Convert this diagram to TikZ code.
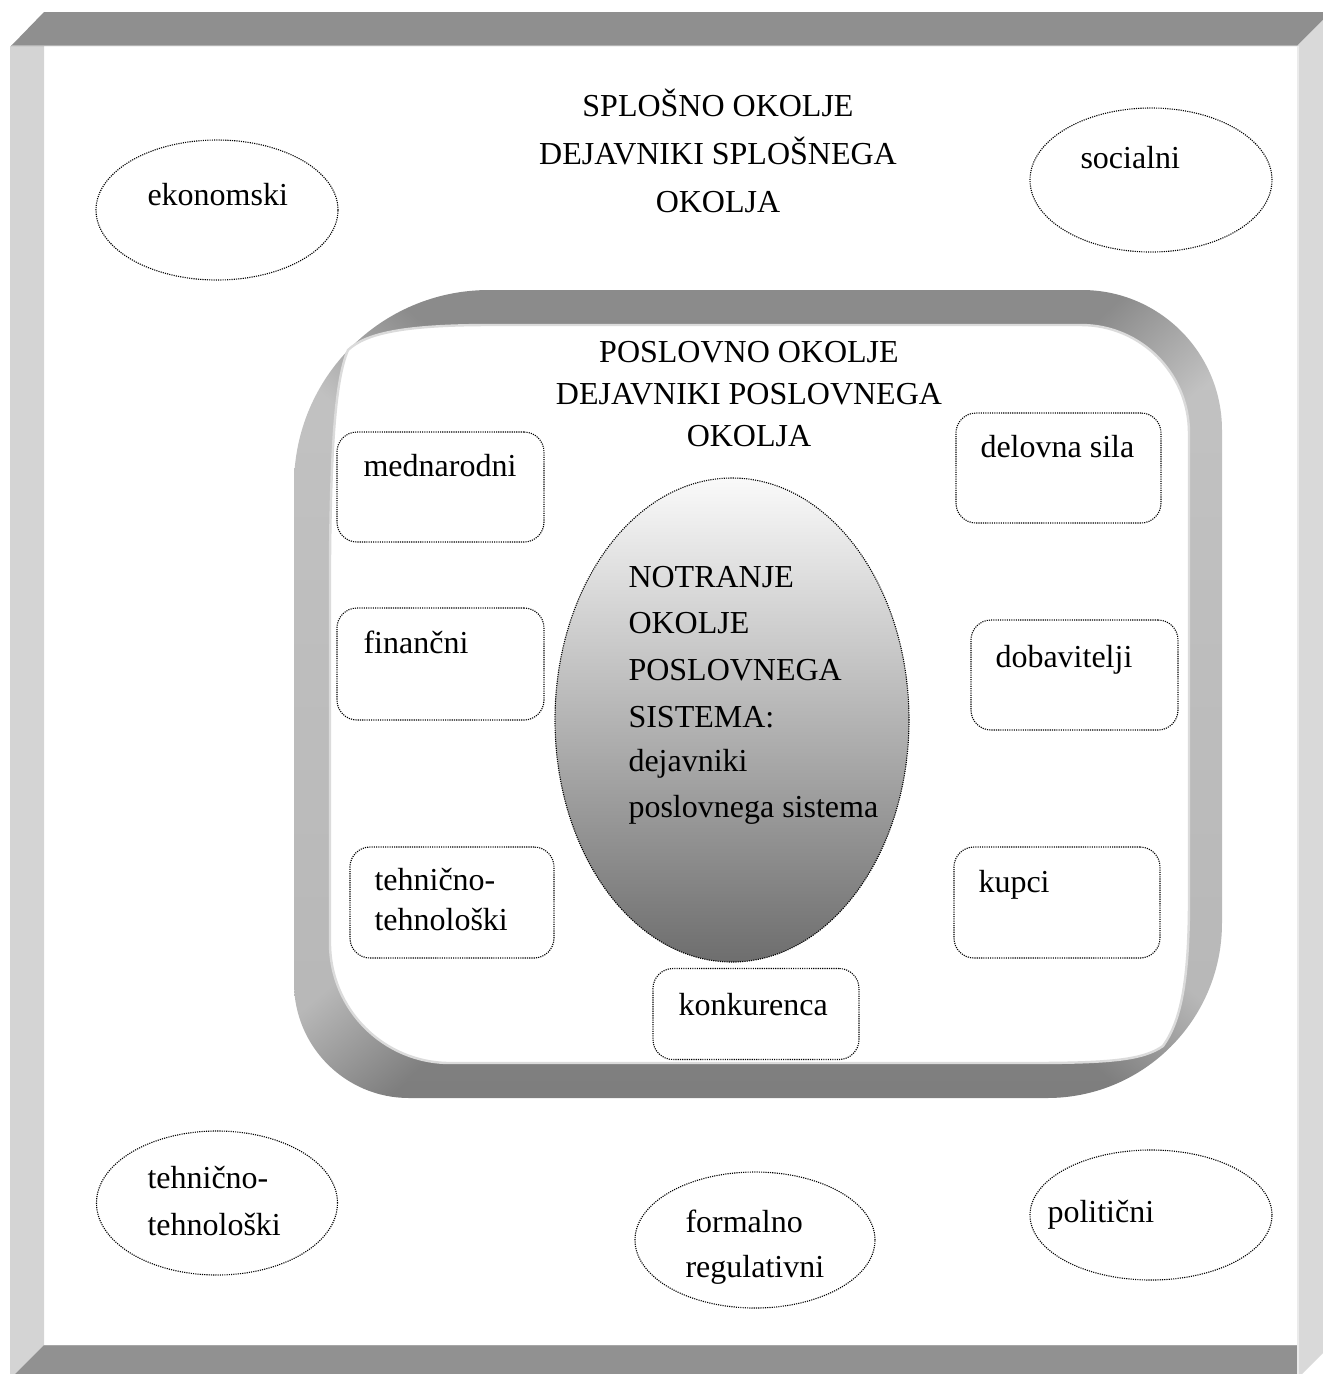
\documentclass[tikz,border=0pt]{standalone}
\usepackage{fontspec}
\setmainfont{Liberation Serif}
\usetikzlibrary{shapes.geometric}

% Bevel-like grey for the rounded band: light on the vertical sides,
% dark on the horizontal sides, slightly darker towards the bottom.
\pgfdeclarefunctionalshading{bandshade}{\pgfpoint{-50bp}{-50bp}}{\pgfpoint{50bp}{50bp}}{}{
  dup 0.001 mul 3 1 roll
  abs exch abs exch sub 0.2 mul
  dup 1 add abs exch 1 sub abs sub
  0.055 mul add 0.63 add
  dup dup
}

\newcommand\pxu{0.375pt}

\begin{document}
\begin{tikzpicture}[x=0.375pt, y=-0.375pt,
  dots/.style={draw=black, line width=0.42pt, dash pattern=on 0.42pt off 0.42pt},
  txt/.style={inner sep=0pt, anchor=base west, font=\fontsize{12}{14}\selectfont},
  ctxt/.style={inner sep=0pt, anchor=base, font=\fontsize{12}{14}\selectfont},
  oval/.style={dots, ellipse, inner sep=0pt},
  factor/.style={dots, rectangle, rounded corners=7.5pt, inner sep=0pt}]

\useasboundingbox (0,0) rectangle (1323,1374);
\clip (0,0) rectangle (1323,1374);

% ---- outer bevelled frame ----
\fill[black!17] (10,46) -- (44,46) -- (44,1345) -- (10,1379) -- cycle;
\fill[black!43] (44,1345) -- (1297,1345) -- (1297,1379) -- (10,1379) -- cycle;
\fill[black!44] (11,46) -- (44,12) -- (1331,12) -- (1297,46) -- cycle;
\fill[black!15] (1297,46) -- (1331,12) -- (1331,1345) -- (1297,1379) -- cycle;
\draw[black!30, line width=0.7pt] (11,45.5) -- (1297,45.5);
\draw[black!35, line width=0.7pt] (44,1345.5) -- (1297,1345.5);
\draw[black!8, line width=0.7pt] (1298,46) -- (1298,1379);

% ---- rounded business-environment band ----
\shade[shading=bandshade]
  (294,485) arc[start angle=180, end angle=270, radius=195]
  -- (1082,290) arc[start angle=270, end angle=360, radius=140]
  -- (1222,923) arc[start angle=0, end angle=90, radius=175]
  -- (409,1098) arc[start angle=90, end angle=180, radius=115]
  -- cycle;
\filldraw[fill=white, draw=black!14, line width=0.9pt]
  (330,560) .. controls (331,440) and (336,378) .. (348,350)
  .. controls (366,333) and (405,325) .. (490,325)
  -- (1081,325) arc[start angle=270, end angle=360, radius=108]
  -- (1189,900) .. controls (1189,985) and (1180,1022) .. (1163,1046)
  .. controls (1143,1060) and (1110,1063) .. (1030,1063)
  -- (450,1063) arc[start angle=90, end angle=180, radius=120]
  -- cycle;

% ---- general environment ----
\node[ctxt] (sp1) at (718,116) {SPLOŠNO OKOLJE};
\node[ctxt] (sp2) at (718,164) {DEJAVNIKI SPLOŠNEGA};
\node[ctxt] (sp3) at (718,212) {OKOLJA};

\node[oval, minimum width=242*\pxu, minimum height=140*\pxu] (ekon) at (217,210) {};
\node[txt] (ekon-t) at (147,205) {ekonomski};

\node[oval, minimum width=242*\pxu, minimum height=144*\pxu] (soc) at (1151,180) {};
\node[txt] (soc-t) at (1080,168) {socialni};

\node[oval, minimum width=241*\pxu, minimum height=144*\pxu] (teh) at (217,1203) {};
\node[txt] (teh-t1) at (147,1188) {tehnično-};
\node[txt] (teh-t2) at (147,1235) {tehnološki};

\node[oval, minimum width=240*\pxu, minimum height=136*\pxu] (form) at (755,1240) {};
\node[txt] (form-t1) at (685,1232) {formalno};
\node[txt] (form-t2) at (685,1277) {regulativni};

\node[oval, minimum width=242*\pxu, minimum height=130*\pxu] (pol) at (1151,1215) {};
\node[txt] (pol-t) at (1047,1222) {politični};

% ---- business environment ----
\node[ctxt] (po1) at (749,362) {POSLOVNO OKOLJE};
\node[ctxt] (po2) at (749,404) {DEJAVNIKI POSLOVNEGA};
\node[ctxt] (po3) at (749,446) {OKOLJA};

\node[factor, minimum width=207*\pxu, minimum height=110*\pxu] (med) at (440.5,487) {};
\node[txt] (med-t) at (363,476) {mednarodni};

\node[factor, minimum width=205*\pxu, minimum height=110*\pxu] (del) at (1058.5,468) {};
\node[txt] (del-t) at (980,457) {delovna sila};

\node[factor, minimum width=207*\pxu, minimum height=112*\pxu] (fin) at (440.5,664) {};
\node[txt] (fin-t) at (363,653) {finančni};

\node[factor, minimum width=207*\pxu, minimum height=110*\pxu] (dob) at (1074.5,675) {};
\node[txt] (dob-t) at (995,667) {dobavitelji};

\node[factor, minimum width=204*\pxu, minimum height=111*\pxu] (tt) at (452,902.5) {};
\node[txt] (tt-t1) at (374,890) {tehnično-};
\node[txt] (tt-t2) at (374,930) {tehnološki};

\node[factor, minimum width=206*\pxu, minimum height=111*\pxu] (kup) at (1057,902.5) {};
\node[txt] (kup-t) at (978,892) {kupci};

\node[factor, minimum width=206*\pxu, minimum height=91*\pxu] (kon) at (756,1014) {};
\node[txt] (kon-t) at (678,1015) {konkurenca};

% ---- internal environment ----
\node[oval, minimum width=354*\pxu, minimum height=484*\pxu,
      top color=black!2, middle color=black!20, bottom color=black!57] (inner) at (732,720) {};
\node[txt] (in1) at (628,587) {NOTRANJE};
\node[txt] (in2) at (628,633) {OKOLJE};
\node[txt] (in3) at (628,680) {POSLOVNEGA};
\node[txt] (in4) at (628,727) {SISTEMA:};
\node[txt] (in5) at (628,771) {dejavniki};
\node[txt] (in6) at (628,817) {poslovnega sistema};

\end{tikzpicture}
\end{document}
